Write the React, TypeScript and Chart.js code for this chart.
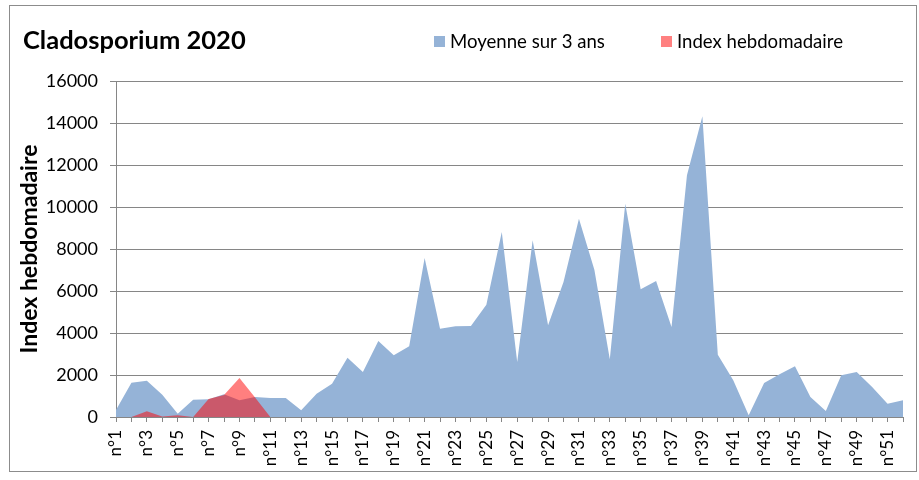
import React, { useEffect, useRef } from 'react';
import { Chart, registerables } from 'chart.js';

Chart.register(...registerables);

const chartTitle = 'Cladosporium 2020';
const yAxisTitle = 'Index hebdomadaire';
const seriesNames = ['Moyenne sur 3 ans', 'Index hebdomadaire'];

const weeks = [
  'n°1', 'n°2', 'n°3', 'n°4', 'n°5', 'n°6', 'n°7', 'n°8', 'n°9', 'n°10',
  'n°11', 'n°12', 'n°13', 'n°14', 'n°15', 'n°16', 'n°17', 'n°18', 'n°19', 'n°20',
  'n°21', 'n°22', 'n°23', 'n°24', 'n°25', 'n°26', 'n°27', 'n°28', 'n°29', 'n°30',
  'n°31', 'n°32', 'n°33', 'n°34', 'n°35', 'n°36', 'n°37', 'n°38', 'n°39', 'n°40',
  'n°41', 'n°42', 'n°43', 'n°44', 'n°45', 'n°46', 'n°47', 'n°48', 'n°49', 'n°50',
  'n°51', 'n°52',
];

const moyenne = [
  330, 1635, 1730, 1063, 160, 825, 840, 1080, 794, 952,
  905, 905, 317, 1111, 1587, 2825, 2143, 3619, 2937, 3365,
  7571, 4206, 4317, 4333, 5349, 8810, 2619, 8413, 4365, 6429,
  9444, 7016, 2746, 10159, 6079, 6476, 4286, 11508, 14317, 2968,
  1746, 80, 1619, 2032, 2413, 952, 286, 1984, 2143, 1429,
  635, 794,
];

const indexHebdo = [
  0, 0, 270, 20, 80, 0, 857, 1048, 1857, 936,
  0, null, null, null, null, null, null, null, null, null,
  null, null, null, null, null, null, null, null, null, null,
  null, null, null, null, null, null, null, null, null, null,
  null, null, null, null, null, null, null, null, null, null,
  null, null,
];

const yMin = 0;
const yMax = 16000;
const yStep = 2000;

const BLUE = '#95B3D7';
const RED_FILL = 'rgba(255,0,0,0.5)';
const RED_LEGEND = '#FF8080';
const GRID = '#868686';
const FONT = 'Lato';

const headerPlugin = {
  id: 'header',
  afterDraw(chart: any) {
    const ctx = chart.ctx;
    ctx.save();
    ctx.fillStyle = '#000';
    ctx.textBaseline = 'alphabetic';
    ctx.textAlign = 'left';
    ctx.font = `bold 25.5px ${FONT}`;
    ctx.fillText(chartTitle, 23, 49);
    const items = [
      { x: 434, ds: chart.data.datasets[0] },
      { x: 661, ds: chart.data.datasets[1] },
    ];
    ctx.font = `18.6px ${FONT}`;
    items.forEach((it: any) => {
      ctx.fillStyle = it.ds.legendColor;
      ctx.fillRect(it.x, 36, 11, 11);
      ctx.fillStyle = '#000';
      ctx.fillText(it.ds.label, it.x + 16, 48);
    });
    ctx.restore();
  },
};

export default function App() {
  const ref = useRef<HTMLCanvasElement | null>(null);

  useEffect(() => {
    if (!ref.current) return;
    const chart = new Chart(ref.current, {
      type: 'line',
      data: {
        labels: weeks,
        datasets: [
          {
            label: seriesNames[0],
            data: moyenne,
            backgroundColor: BLUE,
            borderWidth: 0,
            pointRadius: 0,
            fill: 'origin',
            tension: 0,
            order: 2,
            legendColor: BLUE,
          } as any,
          {
            label: seriesNames[1],
            data: indexHebdo,
            backgroundColor: RED_FILL,
            borderWidth: 0,
            pointRadius: 0,
            fill: 'origin',
            tension: 0,
            order: 1,
            legendColor: RED_LEGEND,
          } as any,
        ],
      },
      options: {
        animation: false,
        responsive: false,
        layout: { padding: { top: 81, left: 0, right: 16, bottom: 0 } },
        plugins: {
          legend: { display: false },
          title: { display: false },
          tooltip: { enabled: false },
        },
        scales: {
          x: {
            offset: false,
            grid: {
              drawOnChartArea: false,
              drawTicks: true,
              tickLength: 5,
              color: GRID,
            },
            border: { color: GRID, width: 1 },
            ticks: {
              autoSkip: false,
              minRotation: 90,
              maxRotation: 90,
              padding: 8,
              color: '#000',
              font: { family: FONT, size: 17 },
              callback: (_v: any, i: number) => (i % 2 === 0 ? weeks[i] : ''),
            },
            afterFit: (s: any) => {
              s.height = 63;
              s.paddingLeft = 0;
              s.paddingRight = 0;
            },
          },
          y: {
            min: yMin,
            max: yMax,
            ticks: {
              stepSize: yStep,
              padding: 12,
              color: '#000',
              font: { family: FONT, size: 18 },
              callback: (v: any) => String(v),
            },
            grid: { color: GRID, tickLength: 6 },
            border: { color: GRID, width: 1 },
            title: {
              display: true,
              text: yAxisTitle,
              color: '#000',
              font: { family: FONT, size: 23, weight: 'bold' },
              padding: { top: 16, bottom: 0 },
            },
            afterFit: (s: any) => {
              s.width = 116;
              s.paddingTop = 0;
              s.paddingBottom = 0;
            },
          },
        },
      } as any,
      plugins: [headerPlugin],
    });
    return () => chart.destroy();
  }, []);

  return (
    <div style={{ position: 'absolute', left: 0, top: 0, width: 919, height: 480, background: '#fff' }}>
      <div
        style={{
          position: 'absolute',
          left: 9,
          top: 5,
          width: 906,
          height: 465,
          border: '1px solid #8c8c8c',
        }}
      />
      <canvas
        ref={ref}
        width={919}
        height={480}
        style={{ position: 'absolute', left: 0, top: 0, width: 919, height: 480 }}
      />
    </div>
  );
}
